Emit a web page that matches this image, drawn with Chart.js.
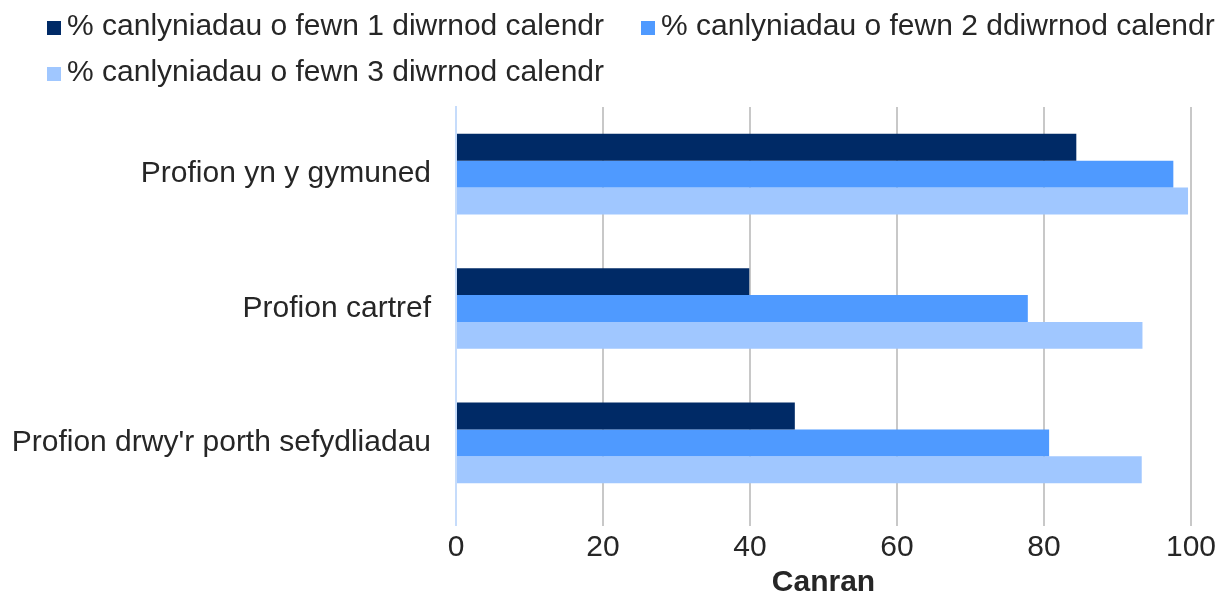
<!DOCTYPE html>
<html>
<head>
<meta charset="utf-8">
<script src="https://cdn.jsdelivr.net/npm/chart.js@4.4.1/dist/chart.umd.min.js"></script>
<style>
  html, body { margin: 0; padding: 0; background: #fff; }
  .wrap { width: 1220px; height: 595px; }
</style>
</head>
<body>
<div class="wrap"><canvas id="chart"></canvas></div>
<script>
// data
const categories = ["Profion yn y gymuned", "Profion cartref", "Profion drwy'r porth sefydliadau"];
const seriesNames = [
  "% canlyniadau o fewn 1 diwrnod calendr",
  "% canlyniadau o fewn 2 ddiwrnod calendr",
  "% canlyniadau o fewn 3 diwrnod calendr"
];
const within1Day = [84.4, 39.9, 46.1];
const within2Days = [97.6, 77.8, 80.7];
const within3Days = [99.6, 93.4, 93.3];
const xTickValues = [0, 20, 40, 60, 80, 100];
const axisTitle = "Canran";

const colors = ["#002a66", "#4f9aff", "#a0c7ff"];
const FONT = '"Liberation Sans", Arial, sans-serif';
const SIZE = 30;
const TEXT = "#262626";

// legend drawn by hand so the rows sit like the original (left aligned, two rows)
const topLegend = {
  id: "topLegend",
  afterDraw(chart) {
    const ctx = chart.ctx;
    const spots = [[47, 27], [641, 27], [47, 73]];
    ctx.save();
    ctx.font = SIZE + "px " + FONT;
    ctx.textBaseline = "middle";
    chart.data.datasets.forEach((ds, i) => {
      const [x, y] = spots[i];
      ctx.fillStyle = ds.backgroundColor;
      ctx.fillRect(x, y - 6, 14, 14);
      ctx.fillStyle = TEXT;
      ctx.fillText(ds.label, x + 20, y);
    });
    ctx.restore();
  }
};

const seriesValues = [within1Day, within2Days, within3Days];

new Chart(document.getElementById("chart"), {
  type: "bar",
  data: {
    labels: categories,
    datasets: seriesNames.map((name, i) => ({
      label: name,
      data: seriesValues[i],
      backgroundColor: colors[i],
      categoryPercentage: 0.6,
      barPercentage: 1.0
    }))
  },
  options: {
    indexAxis: "y",
    responsive: true,
    maintainAspectRatio: false,
    animation: false,
    layout: { padding: { top: 107, right: 22, bottom: -11, left: 0 } },
    plugins: {
      legend: { display: false },
      tooltip: { enabled: false }
    },
    scales: {
      x: {
        min: 0,
        max: 100,
        afterBuildTicks: (scale) => {
          scale.ticks = xTickValues.map(v => ({ value: v }));
        },
        grid: {
          color: (c) => (c.tick && c.tick.value === 0 ? "#c6dcfb" : "#c8c8c8"),
          lineWidth: 2,
          tickLength: 16
        },
        border: { display: false },
        ticks: {
          color: TEXT,
          padding: 4,
          font: { family: FONT, size: SIZE }
        },
        title: {
          display: true,
          text: axisTitle,
          color: TEXT,
          padding: { top: -5, bottom: 5 },
          font: { family: FONT, size: SIZE, weight: "bold" }
        }
      },
      y: {
        afterFit: (scale) => { scale.width = 456; },
        grid: { display: false, drawTicks: false },
        border: { display: true, color: "#c6dcfb", width: 2 },
        ticks: {
          color: TEXT,
          padding: 25,
          font: { family: FONT, size: SIZE }
        }
      }
    }
  },
  plugins: [topLegend]
});
</script>
</body>
</html>
